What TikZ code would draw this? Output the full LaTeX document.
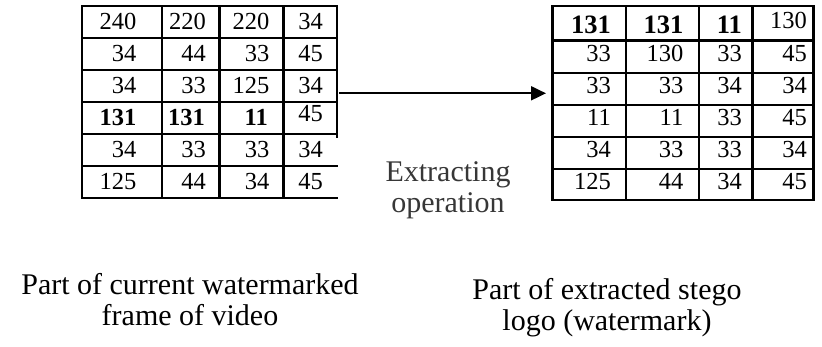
\documentclass[tikz,border=0pt]{standalone}
\usepackage{fontspec}
\setmainfont{Liberation Serif}
\usepackage{xcolor}
\usetikzlibrary{arrows.meta}
\definecolor{opgray}{RGB}{55,55,55}

\begin{document}
\begin{tikzpicture}[x=1pt,y=-1pt]
\tikzset{>={Triangle[width=14pt,length=15pt]}}
\tikzstyle{grid} =[line width=2.4pt,line cap=rect]
\tikzstyle{num} =[anchor=base east,inner sep=0pt,font=\fontsize{24.5}{28}\selectfont]
\tikzstyle{bnum} =[num,font=\fontsize{24.5}{28}\selectfont\bfseries]
\tikzstyle{bignum} =[num,font=\fontsize{26.5}{30}\selectfont\bfseries]
\tikzstyle{caption} =[anchor=north,align=center,inner sep=0pt,font=\fontsize{30}{31}\selectfont]

\useasboundingbox (0,0) rectangle (822,347);

% frame block
\foreach \y in {6,38,70,102,134,166,198}
  \draw[grid] (81.7,\y) -- (336.7,\y);
\foreach \x in {81.7,161.7,219.3,283.5}
  \draw[grid] (\x,6) -- (\x,198);
\draw[grid] (336.7,6) -- (336.7,137);

\foreach \r/\a/\b/\c/\d/\yb in {1/240/220/220/34/30,2/34/44/33/45/62,3/34/33/125/34/94,5/34/33/33/34/158,6/125/44/34/45/190}
{
  \node[num](f\r a) at (136.5,\yb){\a};
  \node[num](f\r b) at (206,\yb){\b};
  \node[num](f\r c) at (269.5,\yb){\c};
  \node[num](f\r d) at (323,\yb){\d};
}
\node[bnum](f4a) at (136.5,126){131};
\node[bnum](f4b) at (205,126){131};
\node[bnum](f4c) at (268,126){11};
\node[num](f4d) at (323,122){45};

% logo block
\foreach \y in {6,40.5,73,105.3,137.3,169.3,200}
  \draw[grid] (552.3,\y) -- (813.3,\y);
\foreach \x in {552.3,626,699,752.3,813.3}
  \draw[grid] (\x,6) -- (\x,200);

\node[bignum](g1a) at (611,34){131};
\node[bignum](g1b) at (683.5,34){131};
\node[bignum](g1c) at (742,34){11};
\node[num](g1d) at (807,28.5){130};
\foreach \r/\a/\b/\c/\d/\yb in {2/33/130/33/45/62,3/33/33/34/34/94,4/11/11/33/45/126,5/34/33/33/34/158,6/125/44/34/45/190}
{
  \node[num](g\r a) at (611,\yb){\a};
  \node[num](g\r b) at (683.5,\yb){\b};
  \node[num](g\r c) at (742,\yb){\c};
  \node[num](g\r d) at (807,\yb){\d};
}

% extraction arrow
\coordinate (src) at (339,93.3);
\coordinate (dst) at (546,93.3);
\draw[->,line width=2pt] (src) -- (dst);
\node[caption,text=opgray](op) at (448,161.8){Extracting\\operation};

\node[caption](framecap) at (190,273){Part of current watermarked\\frame of video};
\node[caption](logocap) at (607,278){Part of extracted stego\\logo (watermark)};
\end{tikzpicture}
\end{document}
